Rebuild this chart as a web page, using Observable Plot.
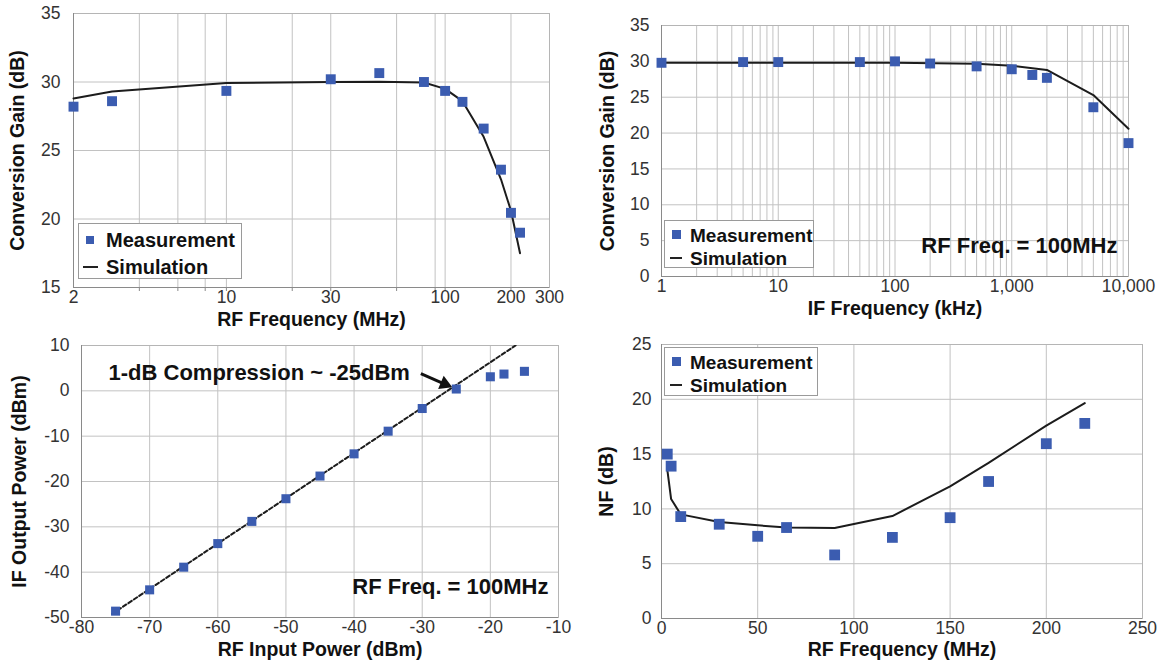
<!DOCTYPE html>
<html><head><meta charset="utf-8">
<script src="https://cdn.jsdelivr.net/npm/d3@7"></script>
<script src="https://cdn.jsdelivr.net/npm/@observablehq/plot@0.6"></script>
<style>
body{margin:0;background:#fff;font-family:"Liberation Sans",Arial,sans-serif;}
#wrap{position:relative;width:1168px;height:661px;overflow:hidden;background:#fff;}
.panel{position:absolute;}
.panel svg{overflow:visible;}
g[aria-label="x-axis label"], g[aria-label="y-axis label"]{font-weight:bold;font-size:19.5px;fill:#111;}
g[aria-label="x-axis tick label"], g[aria-label="y-axis tick label"]{fill:#333;}
.legend{position:absolute;border:1px solid #9a9a9a;background:#fff;box-sizing:border-box;}
.legend .t{position:absolute;font-weight:bold;color:#111;white-space:nowrap;transform:translateY(-50%);line-height:1;}
.legend .sq{position:absolute;background:#3b5cb0;}
.legend .ln{position:absolute;height:2px;background:#222;}
</style>
</head><body>
<div id="wrap"></div>
<script>
// ---------- Data ----------
// (a) Conversion gain vs RF frequency
const rfFreqMeas = [2, 3, 10, 30, 50, 80, 100, 120, 150, 180, 200, 220];
const rfGainMeas = [28.2, 28.6, 29.35, 30.2, 30.65, 30.0, 29.35, 28.55, 26.6, 23.6, 20.45, 19.0];
const rfFreqSim = [2, 3, 10, 30, 50, 80, 100, 120, 150, 180, 200, 220];
const rfGainSim = [28.8, 29.3, 29.93, 30.0, 30.02, 29.96, 29.5, 28.6, 26.0, 22.9, 20.6, 17.5];
const rfTicks = [2, 10, 30, 100, 200, 300];
const rfGrid = [4, 6, 8, 10, 20, 30, 60, 90, 100, 200];
const gainTicksA = [15, 20, 25, 30, 35];

// (b) Conversion gain vs IF frequency
const ifFreqMeas = [1, 5, 10, 50, 100, 200, 500, 1000, 1500, 2000, 5000, 10000];
const ifGainMeas = [29.8, 29.9, 29.9, 29.9, 30.0, 29.7, 29.3, 28.9, 28.1, 27.7, 23.6, 18.6];
const ifFreqSim = [1, 100, 500, 1000, 2000, 5000, 10000];
const ifGainSim = [29.8, 29.8, 29.65, 29.4, 28.8, 25.3, 20.6];
const ifTicks = [1, 10, 100, 1000, 10000];
const gainTicksB = [0, 5, 10, 15, 20, 25, 30, 35];

// (c) IF output power vs RF input power
const pinMeas = [-75, -70, -65, -60, -55, -50, -45, -40, -35, -30, -25, -20, -18, -15];
const poutMeas = [-48.6, -43.9, -38.9, -33.7, -28.8, -23.8, -18.8, -13.9, -8.9, -3.9, 0.4, 3.1, 3.7, 4.3];
const pinFit = [-75.5, -16.3];
const poutFit = [-49.2, 10];
const pinTicks = [-80, -70, -60, -50, -40, -30, -20, -10];
const poutTicks = [-50, -40, -30, -20, -10, 0, 10];
const arrowFrom = [-30.2, 3.8];   // arrow tail (data units)
const arrowHead = [-26.7, 1.5];   // centre of the filled arrow head
const arrowAngle = 113;           // head rotation, degrees

// (d) Noise figure vs RF frequency
const nfFreqMeas = [3, 5, 10, 30, 50, 65, 90, 120, 150, 170, 200, 220];
const nfMeas = [15.0, 13.9, 9.3, 8.6, 7.5, 8.3, 5.8, 7.4, 9.2, 12.5, 15.95, 17.8];
const nfFreqSim = [3, 5, 10, 30, 50, 65, 90, 120, 150, 170, 200, 220];
const nfSim = [13.6, 10.9, 9.5, 8.8, 8.5, 8.3, 8.25, 9.35, 12.05, 14.2, 17.6, 19.65];
const nfXTicks = [0, 50, 100, 150, 200, 250];
const nfYTicks = [0, 5, 10, 15, 20, 25];

// ---------- Style ----------
const BLUE = "#3b5cb0";
const LINE = "#1c1c1c";
const GRID = "#c2c2c2";
const AXIS = "#8a8a8a";
const FONT = "Liberation Sans, Arial, sans-serif";
const baseStyle = {fontFamily: FONT, fontSize: "17.5px", color: "#333", background: "transparent", overflow: "visible"};
const plain = d => String(d);
const annot = {fontSize: 22, fontWeight: "bold", fill: "#111", lineAnchor: "middle"};
const TP = 3;   // x tick label padding
const LO = 38;  // x title offset

const wrap = document.getElementById("wrap");
function place(svg, left, top) {
  const d = document.createElement("div");
  d.className = "panel";
  d.style.left = left + "px";
  d.style.top = top + "px";
  d.appendChild(svg);
  wrap.appendChild(d);
}
function legend(box, rows) {
  const L = document.createElement("div");
  L.className = "legend";
  Object.assign(L.style, {left: box.x + "px", top: box.y + "px", width: box.w + "px", height: box.h + "px"});
  const sq = document.createElement("div");
  sq.className = "sq";
  Object.assign(sq.style, {left: (rows.sqx - rows.sq / 2) + "px", top: (rows.y1 - rows.sq / 2) + "px", width: rows.sq + "px", height: rows.sq + "px"});
  const ln = document.createElement("div");
  ln.className = "ln";
  Object.assign(ln.style, {left: rows.lx1 + "px", top: (rows.y2 - 1) + "px", width: (rows.lx2 - rows.lx1) + "px"});
  const t1 = document.createElement("div");
  t1.className = "t"; t1.textContent = "Measurement";
  Object.assign(t1.style, {left: rows.tx + "px", top: rows.y1 + "px", fontSize: rows.fs + "px"});
  const t2 = document.createElement("div");
  t2.className = "t"; t2.textContent = "Simulation";
  Object.assign(t2.style, {left: rows.tx + "px", top: rows.y2 + "px", fontSize: rows.fs + "px"});
  L.append(sq, ln, t1, t2);
  wrap.appendChild(L);
}

// ---------- Panel (a) ----------
const pA = Plot.plot({
  width: 580, height: 330,
  marginLeft: 73, marginRight: 31, marginTop: 13, marginBottom: 43,
  style: baseStyle,
  x: {type: "log", domain: [2, 300]},
  y: {domain: [15, 35]},
  marks: [
    Plot.gridX(rfGrid, {stroke: GRID, strokeOpacity: 1}),
    Plot.gridY([20, 25, 30], {stroke: GRID, strokeOpacity: 1}),
    Plot.frame({stroke: "#b5b5b5"}),
    Plot.ruleY([15], {stroke: AXIS}),
    Plot.ruleX([2], {stroke: AXIS}),
    Plot.axisX(rfGrid, {tickSize: 4, stroke: AXIS, tickFormat: () => "", label: "RF Frequency (MHz)", labelAnchor: "center", labelArrow: "none", labelOffset: LO}),
    Plot.text(rfTicks, {x: d => d, text: plain, frameAnchor: "bottom", dy: TP, lineAnchor: "top", fill: "#333"}),
    Plot.axisY(gainTicksA, {tickSize: 0, tickPadding: 13, tickFormat: plain, label: "Conversion Gain (dB)", labelAnchor: "center", labelArrow: "none", labelOffset: 63}),
    Plot.line(rfFreqSim, {x: d => d, y: rfGainSim, stroke: LINE, strokeWidth: 2}),
    Plot.dot(rfFreqMeas, {x: d => d, y: rfGainMeas, symbol: "square", r: 5.6, fill: BLUE, stroke: null})
  ]
});
place(pA, 0, 0);
legend({x: 78, y: 223, w: 164, h: 56}, {sqx: 11, sq: 8, y1: 16, y2: 42.5, lx1: 4, lx2: 19, tx: 27, fs: 20});

// ---------- Panel (b) ----------
const ifGrid = [];
for (const dec of [1, 10, 100, 1000]) for (let m = 1; m <= 9; m++) ifGrid.push(dec * m);
ifGrid.push(10000);
const pB = Plot.plot({
  width: 578, height: 330,
  marginLeft: 71, marginRight: 40, marginTop: 25, marginBottom: 54,
  style: baseStyle,
  x: {type: "log", domain: [1, 10000]},
  y: {domain: [0, 35]},
  marks: [
    Plot.gridX(ifGrid, {stroke: GRID, strokeOpacity: 1}),
    Plot.gridY(gainTicksB, {stroke: GRID, strokeOpacity: 1}),
    Plot.frame({stroke: "#b5b5b5"}),
    Plot.ruleY([0], {stroke: AXIS}),
    Plot.ruleX([1], {stroke: AXIS}),
    Plot.axisX(ifGrid, {tickSize: 0, tickFormat: () => "", label: "IF Frequency (kHz)", labelAnchor: "center", labelArrow: "none", labelOffset: LO}),
    Plot.text(ifTicks, {x: d => d, text: d3.format(","), frameAnchor: "bottom", dy: TP, lineAnchor: "top", fill: "#333"}),
    Plot.axisY(gainTicksB, {tickSize: 0, tickPadding: 12, tickFormat: plain, label: "Conversion Gain (dB)", labelAnchor: "center", labelArrow: "none", labelOffset: 61}),
    Plot.text(["RF Freq. = 100MHz"], {frameAnchor: "bottom-right", dx: -11, dy: -31, textAnchor: "end", ...annot}),
    Plot.line(ifFreqSim, {x: d => d, y: ifGainSim, stroke: LINE, strokeWidth: 2}),
    Plot.dot(ifFreqMeas, {x: d => d, y: ifGainMeas, symbol: "square", r: 5.6, fill: BLUE, stroke: null})
  ]
});
place(pB, 590, 0);
legend({x: 664, y: 220, w: 150, h: 48}, {sqx: 11, sq: 9, y1: 13.5, y2: 36.5, lx1: 5, lx2: 17, tx: 25, fs: 19});

// ---------- Panel (c) ----------
const pC = Plot.plot({
  width: 580, height: 331,
  marginLeft: 81, marginRight: 22, marginTop: 15, marginBottom: 44,
  style: baseStyle,
  x: {domain: [-80, -10]},
  y: {domain: [-50, 10]},
  marks: [
    Plot.gridX(pinTicks, {stroke: GRID, strokeOpacity: 1}),
    Plot.gridY(poutTicks, {stroke: GRID, strokeOpacity: 1}),
    Plot.frame({stroke: "#b5b5b5"}),
    Plot.ruleY([-50], {stroke: AXIS}),
    Plot.ruleX([-80], {stroke: AXIS}),
    Plot.axisX(pinTicks, {tickSize: 0, tickPadding: TP, tickFormat: plain, label: "RF Input Power (dBm)", labelAnchor: "center", labelArrow: "none", labelOffset: LO}),
    Plot.axisY(poutTicks, {tickSize: 0, tickPadding: 12, tickFormat: plain, label: "IF Output Power (dBm)", labelAnchor: "center", labelArrow: "none", labelOffset: 69}),
    Plot.line(pinFit, {x: d => d, y: poutFit, stroke: LINE, strokeWidth: 2, strokeDasharray: "4,2.5", clip: true}),
    Plot.dot(pinMeas, {x: d => d, y: poutMeas, symbol: "square", r: 5.1, fill: BLUE, stroke: null}),
    Plot.text(["1-dB Compression ~ -25dBm"], {frameAnchor: "top-left", dx: 27, dy: 27, textAnchor: "start", ...annot}),
    Plot.link([0], {x1: arrowFrom[0], y1: arrowFrom[1], x2: arrowHead[0], y2: arrowHead[1], stroke: "#111", strokeWidth: 3}),
    Plot.dot([0], {x: arrowHead[0], y: arrowHead[1], symbol: "triangle", r: 5.3, rotate: arrowAngle, fill: "#111", stroke: null}),
    Plot.text(["RF Freq. = 100MHz"], {frameAnchor: "bottom-right", dx: -10, dy: -31, textAnchor: "end", ...annot})
  ]
});
place(pC, 0, 330);

// ---------- Panel (d) ----------
const pD = Plot.plot({
  width: 578, height: 331,
  marginLeft: 71, marginRight: 26, marginTop: 14, marginBottom: 43,
  style: baseStyle,
  x: {domain: [0, 250]},
  y: {domain: [0, 25]},
  marks: [
    Plot.gridX(nfXTicks, {stroke: GRID, strokeOpacity: 1}),
    Plot.gridY(nfYTicks, {stroke: GRID, strokeOpacity: 1}),
    Plot.frame({stroke: "#b5b5b5"}),
    Plot.ruleY([0], {stroke: AXIS}),
    Plot.ruleX([0], {stroke: AXIS}),
    Plot.axisX(nfXTicks, {tickSize: 0, tickPadding: TP, tickFormat: plain, label: "RF Frequency (MHz)", labelAnchor: "center", labelArrow: "none", labelOffset: LO - 1}),
    Plot.axisY(nfYTicks, {tickSize: 0, tickPadding: 10, tickFormat: plain, label: "NF (dB)", labelAnchor: "center", labelArrow: "none", labelOffset: 62}),
    Plot.line(nfFreqSim, {x: d => d, y: nfSim, stroke: LINE, strokeWidth: 2}),
    Plot.dot(nfFreqMeas, {x: d => d, y: nfMeas, symbol: "square", r: 6.1, fill: BLUE, stroke: null})
  ]
});
place(pD, 590, 330);
legend({x: 664, y: 347, w: 154, h: 49}, {sqx: 11, sq: 9, y1: 13.5, y2: 36.5, lx1: 5, lx2: 17, tx: 25, fs: 19});
</script>
</body></html>
